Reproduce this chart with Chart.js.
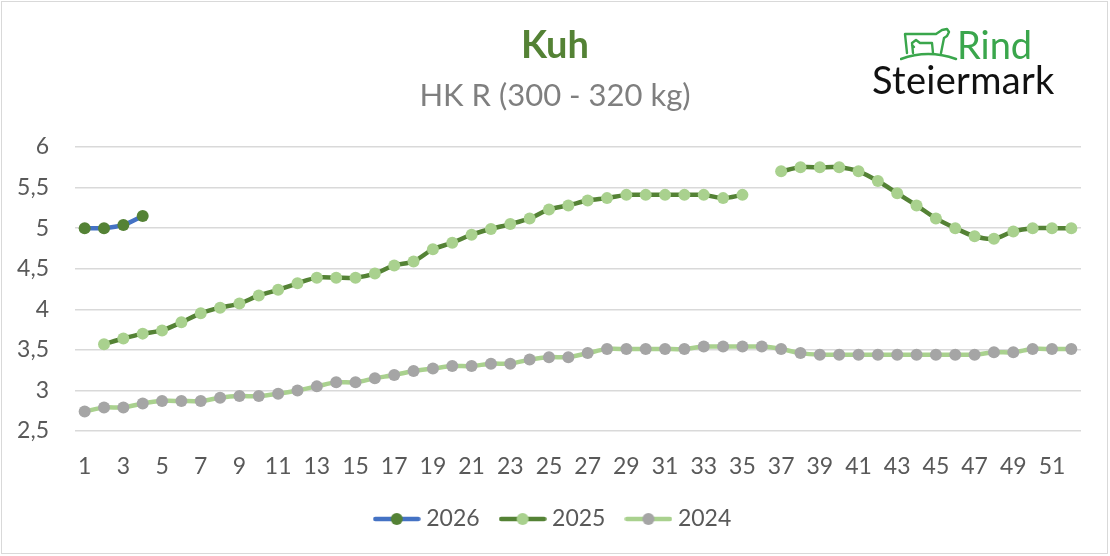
<!DOCTYPE html>
<html>
<head>
<meta charset="utf-8">
<script src="https://cdn.jsdelivr.net/npm/chart.js@4.4.1/dist/chart.umd.min.js"></script>
<style>
  html, body { margin: 0; padding: 0; background: #fff; }
  #wrap { position: relative; width: 1110px; height: 556px; overflow: hidden; }
  #frame { position: absolute; left: 1px; top: 1px; width: 1107px; height: 553px; border: 1px solid #d9d9d9; box-sizing: border-box; }
  #c { position: absolute; left: 0; top: 0; }
  #logo { position: absolute; left: 870px; top: 22px; width: 190px; height: 80px; font-family: Lato, "Noto Sans", sans-serif; }
  #logo .rind { position: absolute; left: 87px; top: 2px; font-size: 38px; color: #3aa64c; line-height: 40px; }
  #logo .stm { position: absolute; left: 2px; top: 37px; font-size: 38px; color: #111; line-height: 40px; letter-spacing: 0.3px; }
  #logo svg { position: absolute; left: 30px; top: 4px; }
</style>
</head>
<body>
<div id="wrap">
  <div id="frame"></div>
  <canvas id="c" width="1110" height="556"></canvas>
  <div id="logo">
    <svg width="60" height="36" viewBox="0 0 60 36">
      <g fill="none" stroke="#3aa64c" stroke-width="2.4" stroke-linejoin="round" stroke-linecap="round">
        <path d="M7 27 L5 8 L36 8 L42 4 L47 3 L49 6 L47 10 L44 12 L41 27"/>
        <path d="M13 27 L12 17 L16 14 L20 17 L32 17 L33 27 M14 21 L12 19"/>
        <path d="M1 33 Q28 23 56 33"/>
      </g>
    </svg>
    <div class="rind">Rind</div>
    <div class="stm">Steiermark</div>
  </div>
</div>
<script>
// ---- data ----
const weeks = Array.from({length: 52}, (_, i) => String(i + 1));
const seriesNames = ["2026", "2025", "2024"];
const values2026 = [5.00, 5.00, 5.04, 5.15];
const values2025 = [null, 3.57, 3.64, 3.70, 3.74, 3.84, 3.95, 4.02, 4.07, 4.17,
  4.24, 4.32, 4.39, 4.39, 4.39, 4.44, 4.54, 4.59, 4.74, 4.82,
  4.92, 4.99, 5.05, 5.12, 5.23, 5.28, 5.34, 5.37, 5.41, 5.41,
  5.41, 5.41, 5.41, 5.37, 5.41, null, 5.70, 5.75, 5.75, 5.75,
  5.70, 5.58, 5.43, 5.28, 5.12, 5.00, 4.90, 4.87, 4.96, 5.00,
  5.00, 5.00];
const values2024 = [2.74, 2.79, 2.79, 2.84, 2.87, 2.87, 2.87, 2.91, 2.93, 2.93,
  2.96, 3.00, 3.05, 3.10, 3.10, 3.15, 3.19, 3.24, 3.27, 3.30,
  3.30, 3.33, 3.33, 3.38, 3.41, 3.41, 3.46, 3.51, 3.51, 3.51,
  3.51, 3.51, 3.54, 3.54, 3.54, 3.54, 3.51, 3.46, 3.44, 3.44,
  3.44, 3.44, 3.44, 3.44, 3.44, 3.44, 3.44, 3.47, 3.47, 3.51,
  3.51, 3.51];
const yTicks = ["2,5", "3", "3,5", "4", "4,5", "5", "5,5", "6"];
const titleText = "Kuh";
const subtitleText = "HK R (300 - 320 kg)";

// ---- styles ----
const lineColors = ["#4472C4", "#548235", "#A9D18E"];
const markerColors = ["#548235", "#A9D18E", "#A5A5A5"];
const FONT = "Lato, 'Noto Sans', sans-serif";

function legendIcon(lineCol, dotCol) {
  const cv = document.createElement('canvas');
  cv.width = 48; cv.height = 14;
  const g = cv.getContext('2d');
  g.strokeStyle = lineCol; g.lineWidth = 4.5; g.lineCap = 'round';
  g.beginPath(); g.moveTo(2.5, 7); g.lineTo(45.5, 7); g.stroke();
  g.fillStyle = dotCol;
  g.beginPath(); g.arc(24, 7, 6, 0, Math.PI * 2); g.fill();
  return cv;
}
const icons = lineColors.map((c, i) => legendIcon(c, markerColors[i]));

const allValues = [values2026, values2025, values2024];
const datasets = allValues.map((vals, i) => ({
  label: seriesNames[i],
  data: vals,
  borderColor: lineColors[i],
  backgroundColor: markerColors[i],
  borderWidth: 4.5,
  pointRadius: 6,
  pointHoverRadius: 6,
  pointBackgroundColor: markerColors[i],
  pointBorderColor: markerColors[i],
  pointBorderWidth: 0,
  tension: 0.3,
  spanGaps: false,
  yAxisID: 'y',
  order: 2 - i
}));

new Chart(document.getElementById('c'), {
  type: 'line',
  data: { labels: weeks, datasets },
  options: {
    responsive: false,
    animation: false,
    devicePixelRatio: 1,
    layout: { padding: { left: 0, right: 0, top: 0, bottom: 15.5 } },
    plugins: {
      tooltip: { enabled: false },
      title: {
        display: true, text: titleText, color: '#548235',
        font: { family: FONT, size: 38, weight: 'bold', lineHeight: 1.2 },
        padding: { top: 23, bottom: 0 }
      },
      subtitle: {
        display: true, text: subtitleText, color: '#7F7F7F',
        font: { family: FONT, size: 31, weight: 'normal', lineHeight: 1.2 },
        padding: { top: 8.8, bottom: 32.4 }
      },
      legend: {
        position: 'bottom',
        labels: {
          color: '#595959',
          font: { family: FONT, size: 23 },
          usePointStyle: true,
          pointStyleWidth: 36,
          padding: 25,
          generateLabels(chart) {
            const items = Chart.defaults.plugins.legend.labels.generateLabels(chart);
            items.forEach(it => { it.pointStyle = icons[it.datasetIndex]; });
            items.sort((a, b) => a.datasetIndex - b.datasetIndex);
            return items;
          }
        }
      }
    },
    scales: {
      x: {
        type: 'category',
        offset: true,
        grid: { display: false, drawTicks: false },
        border: { display: false },
        afterFit(scale) { scale.height = 51.5; },
        ticks: {
          autoSkip: false, maxRotation: 0, minRotation: 0,
          color: '#595959', padding: 22,
          font: { family: FONT, size: 23 },
          callback(val, idx) { return idx % 2 === 0 ? weeks[idx] : ''; }
        }
      },
      y: {
        position: 'left',
        min: 2.5, max: 6,
        grid: { color: '#D9D9D9', lineWidth: 1.4, drawTicks: false },
        border: { display: false },
        afterFit(scale) { scale.width = 75; },
        ticks: {
          stepSize: 0.5, color: '#595959', padding: 26,
          font: { family: FONT, size: 23 },
          callback(val) { return yTicks[Math.round((val - 2.5) / 0.5)]; }
        }
      },
      yRight: {
        position: 'right',
        display: true,
        grid: { display: false, drawTicks: false },
        border: { display: false },
        ticks: { display: false },
        afterFit(scale) { scale.width = 29; }
      }
    }
  }
});
</script>
</body>
</html>
